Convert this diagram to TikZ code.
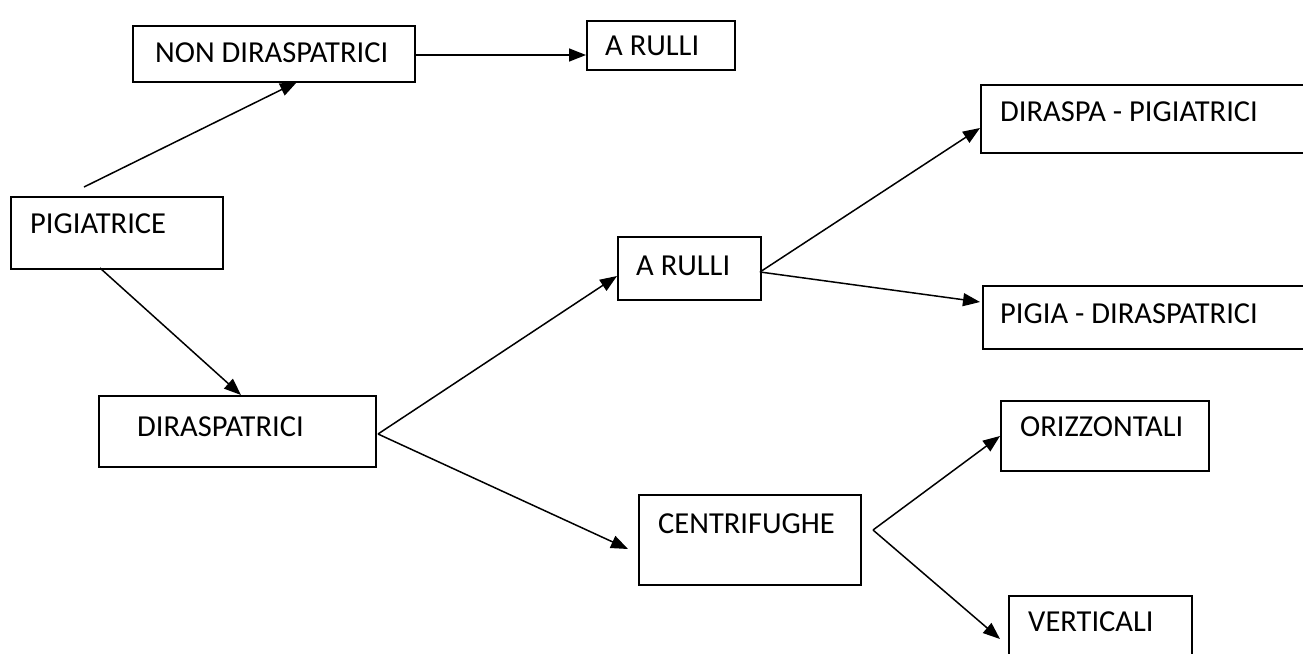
\documentclass[tikz,border=0pt]{standalone}
\usepackage{fontspec}
\setmainfont{Carlito}
\usetikzlibrary{arrows.meta,calc}
\begin{document}
\begin{tikzpicture}[x=1pt,y=-1pt,
  box/.style={draw, line width=1.6pt, inner sep=0pt, anchor=north west},
  lbl/.style={anchor=west, inner sep=0pt, font=\fontsize{30.5}{34}\selectfont},
  conn/.style={line width=1.5pt, -{Triangle[length=17pt,width=13pt]}}]
\useasboundingbox (0,0) rectangle (1303,653);
\fill[white] (0,0) rectangle (1303,653);
% boxes
\node[box, minimum width=282pt, minimum height=56pt] (non) at (132,25) {};
\node[box, minimum width=148pt, minimum height=49pt] (ar1) at (586,20) {};
\node[box, minimum width=212pt, minimum height=72pt] (pig) at (10,196) {};
\node[box, minimum width=277pt, minimum height=71pt] (dir) at (98,395) {};
\node[box, minimum width=143pt, minimum height=63pt] (ar2) at (617,236) {};
\node[box, minimum width=340pt, minimum height=68pt] (dp) at (980,84) {};
\node[box, minimum width=340pt, minimum height=63pt] (pd) at (982,285) {};
\node[box, minimum width=222pt, minimum height=90pt] (cen) at (638,494) {};
\node[box, minimum width=208pt, minimum height=70pt] (ori) at (1000,400) {};
\node[box, minimum width=183pt, minimum height=70pt] (ver) at (1008,595) {};
% labels
\node[lbl] (tnon) at (155,53) {NON DIRASPATRICI};
\node[lbl] (tar1) at (605,46) {A RULLI};
\node[lbl] (tpig) at (30,224) {PIGIATRICE};
\node[lbl] (tdir) at (137,427) {DIRASPATRICI};
\node[lbl] (tar2) at (636,266) {A RULLI};
\node[lbl] (tdp) at (1000,112) {DIRASPA - PIGIATRICI};
\node[lbl] (tpd) at (1000,314) {PIGIA - DIRASPATRICI};
\node[lbl] (tcen) at (658,524) {CENTRIFUGHE};
\node[lbl] (tori) at (1020,427) {ORIZZONTALI};
\node[lbl] (tver) at (1028,622) {VERTICALI};
% connector points
\coordinate (s1) at (84,187);
\coordinate (e1) at (297,82);
\coordinate (s2) at (100,268);
\coordinate (e2) at (241,395);
\coordinate (sd) at (378,434);
\coordinate (e3) at (617,276);
\coordinate (e4) at (628,549);
\coordinate (sa) at (760,272);
\coordinate (e5) at (980,128);
\coordinate (e6) at (980,302);
\coordinate (sc) at (873,530);
\coordinate (e7) at (1000,436);
\coordinate (e8) at (1000,639);
% connectors
\draw[conn] (s1) -- (e1);
\draw[conn] (non.east |- 0,55) -- (ar1.west |- 0,55);
\draw[conn] (s2) -- (e2);
\draw[conn] (sd) -- (e3);
\draw[conn] (sd) -- (e4);
\draw[conn] (sa) -- (e5);
\draw[conn] (sa) -- (e6);
\draw[conn] (sc) -- (e7);
\draw[conn] (sc) -- (e8);
\end{tikzpicture}
\end{document}
